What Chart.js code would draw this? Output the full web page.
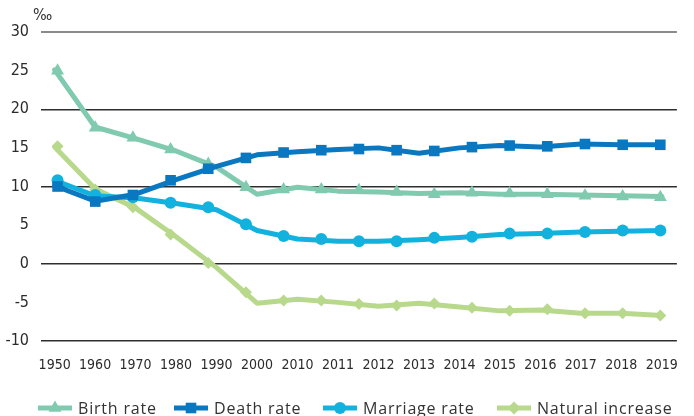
<!DOCTYPE html>
<html><head><meta charset="utf-8">
<script src="https://cdn.jsdelivr.net/npm/chart.js@4"></script>
<style>
html,body{margin:0;padding:0;background:#fff;}
#wrap{position:relative;width:694px;height:416px;overflow:hidden;}
#unit{position:absolute;left:33px;top:5px;font:16px 'Liberation Sans Narrow','DejaVu Sans Condensed',sans-serif;color:#333;}
.leg{position:absolute;top:400px;height:16px;display:flex;align-items:center;font:16px 'Open Sans',sans-serif;letter-spacing:0.8px;color:#333;white-space:nowrap;line-height:16px;}
.leg svg{margin-right:6px;flex:none}
</style></head>
<body><div id="wrap"><canvas id="c" width="694" height="416" style="width:694px;height:416px"></canvas><div id="unit">‰</div><div id="legend"></div></div>
<script>
const labels = ['1950','1960','1970','1980','1990','2000','2010','2011','2012','2013','2014','2015','2016','2017','2018','2019'];

// line vertices (one per label)
const birthLine    = [25.1, 17.7, 16.2, 14.6, 12.5, 9.0, 9.9, 9.4, 9.3, 9.1, 9.2, 9.0, 9.0, 8.9, 8.8, 8.7];
const deathLine    = [10.1, 8.1, 9.0, 10.9, 12.6, 14.1, 14.5, 14.8, 15.0, 14.3, 15.0, 15.3, 15.1, 15.5, 15.4, 15.4];
const marriageLine = [10.8, 8.8, 8.5, 7.8, 7.0, 4.3, 3.2, 2.9, 2.9, 3.1, 3.4, 3.8, 3.9, 4.1, 4.2, 4.3];
const naturalLine  = [15.1, 9.7, 7.2, 3.5, -0.5, -5.1, -4.6, -5.0, -5.5, -5.1, -5.6, -6.1, -6.0, -6.4, -6.4, -6.7];

// marker values (17 evenly spaced markers)
const birthMarkers    = [25.0, 17.6, 16.3, 14.8, 12.9, 9.9, 9.6, 9.6, 9.5, 9.3, 9.0, 9.2, 9.1, 9.0, 8.8, 8.7, 8.6];
const deathMarkers    = [10.0, 8.05, 8.9, 10.8, 12.3, 13.7, 14.4, 14.7, 14.85, 14.7, 14.6, 15.1, 15.3, 15.2, 15.5, 15.4, 15.4];
const marriageMarkers = [10.8, 8.9, 8.6, 7.9, 7.3, 5.1, 3.6, 3.2, 2.9, 2.9, 3.35, 3.5, 3.9, 3.9, 4.1, 4.3, 4.3];
const naturalMarkers  = [15.2, 9.6, 7.3, 3.8, 0.1, -3.7, -4.75, -4.75, -5.2, -5.4, -5.15, -5.7, -6.1, -5.9, -6.4, -6.4, -6.7];

const yTicks = [-10, -5, 0, 5, 10, 15, 20, 25, 30];

const C = {birth:'#80cab0', death:'#0a78c0', marriage:'#13b2de', natural:'#b8d98c'};
const series = [
  {name:'Birth rate', line:birthLine, marks:birthMarkers, color:C.birth, style:'triangle', r:7.5},
  {name:'Death rate', line:deathLine, marks:deathMarkers, color:C.death, style:'rect', r:7.5},
  {name:'Marriage rate', line:marriageLine, marks:marriageMarkers, color:C.marriage, style:'circle', r:6},
  {name:'Natural increase', line:naturalLine, marks:naturalMarkers, color:C.natural, style:'rectRot', r:6}
];
const drawOrder = {'Death rate':0,'Birth rate':1,'Marriage rate':2,'Natural increase':3};
const pts = v => v.map((y,i)=>({x:i,y}));

const datasets = [];
series.forEach(s=>{
  const o = drawOrder[s.name]*2;
  datasets.push({label:s.name, data:pts(s.line), xAxisID:'x', yAxisID:'y', borderColor:s.color, backgroundColor:s.color,
    borderWidth:5, pointRadius:0, pointHoverRadius:0, tension:0, borderJoinStyle:'round', borderCapStyle:'round', order:o+2});
  datasets.push({label:s.name+' markers', data:pts(s.marks), xAxisID:'x2', yAxisID:'y', showLine:false,
    pointStyle:s.style, pointRadius:s.r, pointHoverRadius:s.r, backgroundColor:s.color, borderColor:s.color, borderWidth:0, order:o+1});
});

const narrow = "'Liberation Sans Narrow','DejaVu Sans Condensed',sans-serif";
new Chart(document.getElementById('c'), {
  type:'line',
  data:{datasets},
  options:{
    responsive:false, animation:false, events:[],
    layout:{padding:{top:32,right:1,left:0,bottom:0}},
    plugins:{legend:{display:false}, tooltip:{enabled:false}},
    scales:{
      x:{type:'linear', min:-0.337, max:15.373,
        afterBuildTicks:s=>{s.ticks = labels.map((_,i)=>({value:i}));},
        afterFit:s=>{s.height = 75;},
        ticks:{callback:v=>labels[v], font:{family:narrow,size:14}, color:'#2b2b2b', padding:16, maxRotation:0, autoSkip:false},
        grid:{display:false, drawTicks:false}, border:{display:false}},
      x2:{type:'linear', display:false, min:-0.44, max:16.44},
      y:{type:'linear', min:-10, max:30,
        afterBuildTicks:s=>{s.ticks = yTicks.map(v=>({value:v}));},
        afterFit:s=>{s.width = 41;},
        ticks:{font:{family:narrow,size:16}, color:'#2b2b2b', padding:12, callback:v=>String(v)},
        grid:{drawTicks:false,
          color:c=> (c.tick && c.tick.value%10===0) ? (c.tick.value===30 ? '#8a8a8a' : '#2e2e2e') : 'rgba(0,0,0,0)',
          lineWidth:c=> (c.tick && c.tick.value===30) ? 2 : 1.5},
        border:{display:false}}
    }
  }
});

// legend
const legPos = [38, 174, 323, 497];
const leg = document.getElementById('legend');
function icon(s){
  const w=34, cy=8, cx=17;
  let m='';
  if(s.style==='triangle'){const r=7.5; m=`<polygon points="${cx},${cy-r} ${cx+r*0.866},${cy+r/2} ${cx-r*0.866},${cy+r/2}" fill="${s.color}"/>`;}
  else if(s.style==='rect'){m=`<rect x="${cx-5.3}" y="${cy-5.3}" width="10.6" height="10.6" fill="${s.color}"/>`;}
  else if(s.style==='circle'){m=`<circle cx="${cx}" cy="${cy}" r="6" fill="${s.color}"/>`;}
  else {const r=6.5; m=`<polygon points="${cx},${cy-r} ${cx+r},${cy} ${cx},${cy+r} ${cx-r},${cy}" fill="${s.color}"/>`;}
  return `<svg width="${w}" height="16" viewBox="0 0 ${w} 16"><line x1="0" y1="${cy}" x2="${w}" y2="${cy}" stroke="${s.color}" stroke-width="5"/>${m}</svg>`;
}
series.forEach((s,i)=>{
  const d=document.createElement('div'); d.className='leg'; d.style.left=legPos[i]+'px';
  d.innerHTML=icon(s)+'<span>'+s.name+'</span>';
  leg.appendChild(d);
});
</script>
</body></html>
